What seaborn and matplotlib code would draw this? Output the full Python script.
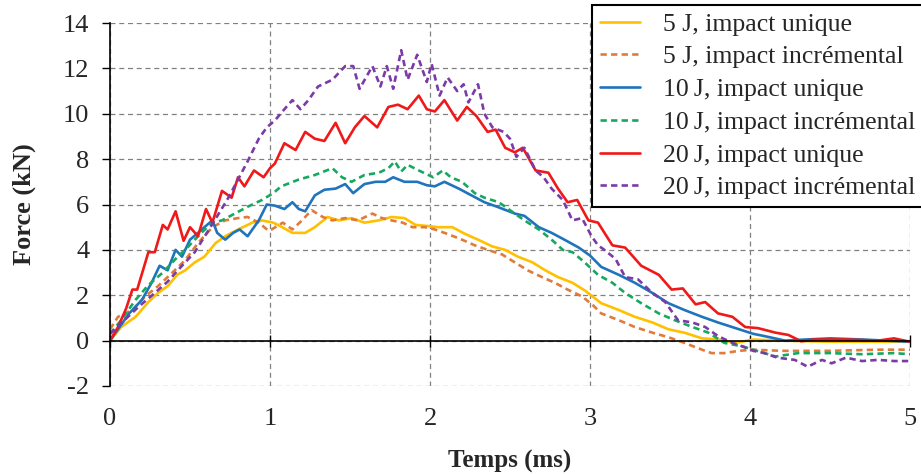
import numpy as np
import pandas as pd
import matplotlib
matplotlib.use("Agg")
import matplotlib.pyplot as plt
import seaborn as sns

# Force-time curves (t in ms, F in kN)
j5_unique = [(0, 0), (0.07, 0.6), (0.16, 1.05), (0.24, 1.7), (0.3, 2.1), (0.36, 2.4), (0.42, 2.9), (0.47, 3.1),
             (0.53, 3.45), (0.59, 3.7), (0.66, 4.3), (0.72, 4.6), (0.8, 4.9), (0.89, 5.2), (0.95, 5.3), (1.02, 5.2),
             (1.05, 5.1), (1.14, 4.75), (1.22, 4.75), (1.28, 5.0), (1.36, 5.45), (1.43, 5.3), (1.51, 5.4), (1.59, 5.2),
             (1.68, 5.3), (1.76, 5.45), (1.84, 5.4), (1.91, 5.1), (1.99, 5.05), (2.05, 5.0), (2.14, 5.0), (2.22, 4.7),
             (2.3, 4.45), (2.39, 4.15), (2.47, 4.0), (2.55, 3.7), (2.64, 3.45), (2.72, 3.1), (2.8, 2.8), (2.89, 2.55),
             (2.97, 2.2), (3.07, 1.65), (3.18, 1.35), (3.28, 1.05), (3.39, 0.8), (3.49, 0.5), (3.59, 0.35), (3.7, 0.1),
             (3.8, 0.05), (3.91, -0.1), (4.02, 0.05), (4.2, 0.0), (4.5, -0.05), (5.0, -0.05)]

j5_incr = [(0, 0.5), (0.05, 1.05), (0.14, 1.35), (0.22, 1.95), (0.3, 2.4), (0.39, 3.0), (0.47, 3.55), (0.55, 4.3),
           (0.64, 5.0), (0.72, 5.3), (0.8, 5.4), (0.86, 5.45), (0.93, 5.2), (0.99, 4.85), (1.01, 4.9), (1.08, 5.2),
           (1.14, 4.9), (1.2, 5.3), (1.26, 5.75), (1.33, 5.45), (1.39, 5.3), (1.47, 5.4), (1.55, 5.3), (1.64, 5.6),
           (1.7, 5.4), (1.76, 5.3), (1.83, 5.2), (1.89, 5.0), (1.97, 5.0), (2.03, 4.9), (2.11, 4.7), (2.2, 4.45),
           (2.28, 4.2), (2.36, 4.0), (2.45, 3.8), (2.53, 3.45), (2.61, 3.1), (2.7, 2.8), (2.78, 2.55), (2.86, 2.25),
           (2.95, 1.95), (3.02, 1.55), (3.07, 1.2), (3.18, 0.9), (3.28, 0.6), (3.39, 0.35), (3.49, 0.15), (3.59, -0.1),
           (3.7, -0.4), (3.76, -0.55), (3.84, -0.55), (3.93, -0.45), (4.02, -0.4), (4.2, -0.45), (4.5, -0.45),
           (4.8, -0.4), (5.0, -0.4)]

j10_unique = [(0, 0), (0.05, 0.5), (0.12, 1.2), (0.2, 1.8), (0.26, 2.55), (0.31, 3.3), (0.36, 3.1), (0.41, 4.0),
              (0.45, 3.7), (0.5, 4.45), (0.55, 4.75), (0.59, 5.0), (0.64, 5.3), (0.67, 4.75), (0.72, 4.45),
              (0.77, 4.75), (0.81, 4.9), (0.86, 4.6), (0.93, 5.3), (0.98, 6.0), (1.03, 5.95), (1.09, 5.8),
              (1.14, 6.1), (1.18, 5.8), (1.22, 5.7), (1.28, 6.4), (1.34, 6.65), (1.41, 6.7), (1.47, 6.9), (1.52, 6.5),
              (1.59, 6.9), (1.66, 7.0), (1.72, 7.0), (1.77, 7.2), (1.84, 7.0), (1.92, 7.0), (1.98, 6.85), (2.03, 6.8),
              (2.09, 7.0), (2.18, 6.7), (2.26, 6.4), (2.34, 6.1), (2.42, 5.9), (2.53, 5.6), (2.59, 5.5), (2.68, 5.0),
              (2.76, 4.75), (2.84, 4.45), (2.93, 4.1), (3.0, 3.75), (3.07, 3.25), (3.18, 2.9), (3.28, 2.55),
              (3.39, 2.1), (3.49, 1.65), (3.59, 1.35), (3.7, 1.05), (3.8, 0.8), (3.91, 0.55), (4.02, 0.3),
              (4.09, 0.2), (4.22, 0.0), (4.35, 0.05), (4.5, 0.1), (4.7, 0.05), (4.85, 0.0), (5.0, -0.05)]

j10_incr = [(0, 0.3), (0.07, 0.9), (0.16, 1.8), (0.24, 2.45), (0.33, 3.0), (0.41, 3.6), (0.49, 4.15), (0.57, 4.75),
            (0.64, 5.2), (0.7, 5.3), (0.78, 5.6), (0.86, 5.9), (0.95, 6.2), (1.02, 6.5), (1.07, 6.8), (1.18, 7.1),
            (1.28, 7.3), (1.39, 7.6), (1.45, 7.2), (1.51, 7.0), (1.59, 7.3), (1.68, 7.4), (1.74, 7.6), (1.78, 7.9),
            (1.82, 7.45), (1.86, 7.75), (1.93, 7.5), (1.99, 7.3), (2.02, 7.2), (2.08, 7.5), (2.13, 7.2), (2.2, 7.0),
            (2.28, 6.5), (2.34, 6.3), (2.43, 6.1), (2.51, 5.7), (2.59, 5.3), (2.68, 4.9), (2.76, 4.45), (2.83, 4.0),
            (2.89, 3.9), (2.95, 3.55), (3.02, 3.1), (3.05, 2.9), (3.14, 2.55), (3.22, 2.1), (3.32, 1.65), (3.43, 1.2),
            (3.53, 0.9), (3.64, 0.6), (3.74, 0.35), (3.84, -0.1), (3.95, -0.25), (4.02, -0.4), (4.16, -0.7),
            (4.3, -0.55), (4.5, -0.55), (4.7, -0.6), (4.9, -0.55), (5.0, -0.6)]

j20_unique = [(0, 0), (0.05, 0.6), (0.1, 1.4), (0.14, 2.25), (0.17, 2.25), (0.24, 3.9), (0.28, 3.9), (0.33, 5.1),
              (0.36, 4.9), (0.41, 5.7), (0.46, 4.4), (0.5, 5.0), (0.55, 4.6), (0.6, 5.8), (0.64, 5.2), (0.7, 6.6),
              (0.76, 6.3), (0.8, 7.2), (0.84, 6.8), (0.9, 7.5), (0.96, 7.2), (1.0, 7.6), (1.03, 7.8), (1.09, 8.7),
              (1.16, 8.4), (1.22, 9.2), (1.28, 8.9), (1.34, 8.8), (1.41, 9.6), (1.47, 8.7), (1.53, 9.4), (1.59, 9.9),
              (1.67, 9.4), (1.74, 10.3), (1.8, 10.4), (1.86, 10.2), (1.93, 10.8), (1.98, 10.2), (2.03, 10.1),
              (2.09, 10.6), (2.17, 9.7), (2.23, 10.3), (2.29, 9.9), (2.36, 9.2), (2.41, 9.3), (2.47, 8.5), (2.53, 8.3),
              (2.58, 8.5), (2.66, 7.5), (2.74, 7.4), (2.8, 6.7), (2.86, 6.1), (2.92, 6.2), (2.99, 5.3), (3.05, 5.2),
              (3.14, 4.2), (3.22, 4.1), (3.32, 3.3), (3.43, 2.9), (3.51, 2.25), (3.58, 2.3), (3.66, 1.6), (3.72, 1.7),
              (3.8, 1.2), (3.89, 1.05), (3.97, 0.6), (4.05, 0.55), (4.16, 0.35), (4.24, 0.25), (4.32, -0.03),
              (4.4, 0.05), (4.6, 0.05), (4.8, 0.0), (4.9, 0.1), (5.0, -0.05)]

j20_incr = [(0, 0.3), (0.09, 0.9), (0.18, 1.5), (0.28, 2.1), (0.36, 2.6), (0.45, 3.3), (0.53, 3.9), (0.61, 4.8),
            (0.68, 5.6), (0.74, 6.3), (0.8, 7.1), (0.86, 7.9), (0.93, 8.9), (0.98, 9.4), (1.03, 9.7), (1.09, 10.2),
            (1.14, 10.6), (1.19, 10.2), (1.24, 10.6), (1.3, 11.2), (1.39, 11.5), (1.47, 12.1), (1.52, 12.1),
            (1.56, 11.1), (1.64, 12.1), (1.69, 11.2), (1.73, 12.1), (1.77, 11.1), (1.82, 12.8), (1.86, 11.5),
            (1.92, 12.6), (1.98, 11.4), (2.01, 12.2), (2.06, 10.8), (2.11, 11.6), (2.17, 11.0), (2.21, 11.3),
            (2.24, 10.5), (2.3, 11.3), (2.34, 10.0), (2.39, 9.4), (2.46, 9.2), (2.5, 8.9), (2.54, 8.1), (2.59, 8.5),
            (2.66, 7.5), (2.71, 7.2), (2.76, 6.7), (2.83, 6.2), (2.89, 5.3), (2.95, 5.4), (3.01, 4.6), (3.05, 4.2),
            (3.09, 4.0), (3.16, 3.6), (3.22, 2.8), (3.3, 2.7), (3.39, 2.1), (3.47, 1.7), (3.55, 0.9), (3.64, 0.8),
            (3.72, 0.6), (3.8, 0.2), (3.89, -0.1), (3.97, -0.3), (4.02, -0.45), (4.09, -0.55), (4.17, -0.75),
            (4.28, -0.85), (4.36, -1.15), (4.45, -0.85), (4.51, -1.0), (4.6, -0.75), (4.7, -0.9), (4.8, -0.85),
            (4.9, -0.9), (5.0, -0.9)]

labels = ["5 J, impact unique", "5 J, impact incrémental", "10\u2009J, impact unique",
          "10\u2009J, impact incrémental", "20\u2009J, impact unique", "20\u2009J, impact incrémental"]
curves = [j5_unique, j5_incr, j10_unique, j10_incr, j20_unique, j20_incr]
colors = ["#FFC000", "#E07B39", "#1F74BC", "#17A860", "#F01818", "#7A3AA8"]
dashed = [False, True, False, True, False, True]

x_ticks = [0, 1, 2, 3, 4, 5]
y_ticks = [-2, 0, 2, 4, 6, 8, 10, 12, 14]

sns.set_theme(style="white")
plt.rcParams['font.family'] = ['Liberation Serif', 'DejaVu Serif']
plt.rcParams['axes.unicode_minus'] = False

fig = plt.figure(figsize=(9.21, 4.74), dpi=100)
ax = fig.add_axes([110 / 921, 1 - 386 / 474, 800 / 921, 363 / 474])

for lab, pts, col, dsh in zip(labels, curves, colors, dashed):
    df = pd.DataFrame(pts, columns=["t", "F"])
    ls = (0, (2.4, 1.6)) if dsh else "-"
    sns.lineplot(data=df, x="t", y="F", ax=ax, color=col, lw=1.9, ls=ls,
                 estimator=None, sort=False, label=lab)

ax.set_xlim(0, 5)
ax.set_ylim(-2, 14)
ax.set_xticks(x_ticks)
ax.set_yticks(y_ticks)
ax.grid(True, color="#808080", lw=0.9, ls=(0, (4, 3)))
ax.set_axisbelow(True)

for s in ["top", "right"]:
    ax.spines[s].set_visible(False)
ax.spines["left"].set_color("black")
ax.spines["left"].set_linewidth(1.2)
ax.spines["bottom"].set_position(("data", 0))
ax.spines["bottom"].set_color("black")
ax.spines["bottom"].set_linewidth(1.2)

ax.tick_params(axis="x", direction="inout", length=8, width=1, color="black", labelbottom=False, bottom=True)
ax.tick_params(axis="y", direction="out", length=6, width=1, color="black", labelsize=19, pad=9, left=True)
ax.set_xlabel("")
ax.set_ylabel("Force (kN)", fontsize=19, fontweight="bold", labelpad=19)

sec = ax.secondary_xaxis(location=0)
sec.set_xticks(x_ticks)
sec.tick_params(length=0, labelsize=19, pad=16)
sec.spines["bottom"].set_visible(False)
sec.set_xlabel("Temps (ms)", fontsize=18, fontweight="bold", labelpad=14)

handles, labs = ax.get_legend_handles_labels()
leg = ax.legend(handles, labs, loc="upper left", bbox_to_anchor=(592 / 921, 1 - 5 / 474),
                bbox_transform=fig.transFigure, borderaxespad=0, fontsize=18.5,
                handlelength=1.55, handletextpad=0.9, labelspacing=0.38, borderpad=0.3,
                frameon=True, fancybox=False, framealpha=1)
leg.get_frame().set_edgecolor("black")
leg.get_frame().set_linewidth(1.5)

fig.savefig("out.png", dpi=100)
